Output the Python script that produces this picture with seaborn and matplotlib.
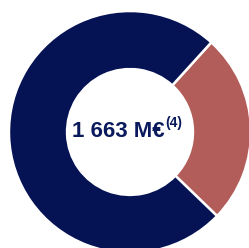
import seaborn as sns
import matplotlib
matplotlib.use("Agg")
import matplotlib.pyplot as plt

# shares of the 1 663 M€ total
segments = ["Autres", "Principal"]
shares = [25.5, 74.5]
colors = ["#B25D5A", "#051254"]
total_label = "1 663 M€"
note = "(4)"

sns.set_theme(style="white")
plt.rcParams["font.family"] = ["Liberation Sans", "DejaVu Sans"]

fig = plt.figure(figsize=(2.49, 2.48), dpi=100)
ax = fig.add_axes([0, 0, 1, 1])

ax.pie(shares, colors=colors, startangle=-44, counterclock=True,
       radius=1, wedgeprops=dict(width=0.48, edgecolor="white", linewidth=1.8))

ax.text(0.29, 0.0, total_label, ha="right", va="center",
        fontsize=16, fontweight="bold", color="#0a1a5c")
ax.text(0.295, 0.075, note, ha="left", va="center",
        fontsize=10, fontweight="bold", color="#0a1a5c")

ax.set_xlim(-1.074, 0.983)
ax.set_ylim(-0.959, 1.091)
ax.set_aspect("auto")
ax.axis("off")

plt.savefig("out.png", dpi=100)
